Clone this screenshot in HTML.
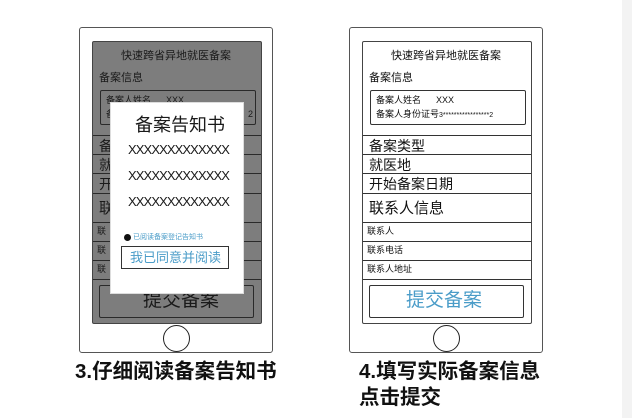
<!DOCTYPE html>
<html><head><meta charset="utf-8"><style>
*{margin:0;padding:0;box-sizing:border-box}
body{width:632px;height:418px;background:#fff;position:relative;overflow:hidden;font-family:"Liberation Sans","Noto Sans CJK SC",sans-serif;color:#111}
.a{position:absolute}
.phone{position:absolute;top:27px;width:194px;height:326px;border:1.5px solid #555;border-radius:3px;background:#fff}
.scr{position:absolute;left:12px;top:13px;width:170px;height:283px;border:1.5px solid #444;border-radius:2px;overflow:hidden}
.home{position:absolute;left:83px;top:297px;width:27px;height:27px;border:1.5px solid #222;border-radius:50%}
.ln{position:absolute;left:0;width:100%;border-top:1.3px solid #333}
.t{position:absolute;white-space:nowrap;line-height:1}
.dim .scr{background:#7d7d7d}
.dim .ln{border-color:#2a2a2a}
.dim .t{color:#1a1a1a}
.cap{position:absolute;font-size:20.5px;font-weight:bold;white-space:nowrap;line-height:1}
.x{font-size:13px;letter-spacing:-0.9px}
</style></head><body>
<div class="a" style="left:622px;top:0;width:10px;height:418px;background:#f3f3f3"></div>

<!-- Phone 1 -->
<div class="phone dim" style="left:79px">
 <div class="scr">
  <div class="t" style="left:28px;top:9px;font-size:11px">快速跨省异地就医备案</div>
  <div class="t" style="left:6px;top:31px;font-size:11px">备案信息</div>
  <div class="a" style="left:7px;top:48px;width:156px;height:35px;border:1.3px solid #2a2a2a;border-radius:2px"></div>
  <div class="t" style="left:13px;top:54px;font-size:9px">备案人姓名&nbsp;&nbsp;&nbsp;&nbsp;&nbsp;&nbsp;XXX</div>
  <div class="t" style="left:13px;top:68px;font-size:9px">备</div>
  <div class="t" style="left:155px;top:68px;font-size:9px">2</div>
  <div class="ln" style="top:93px"></div>
  <div class="t" style="left:6px;top:97px;font-size:14px">备</div>
  <div class="ln" style="top:112px"></div>
  <div class="t" style="left:6px;top:116px;font-size:14px">就</div>
  <div class="ln" style="top:131px"></div>
  <div class="t" style="left:6px;top:135px;font-size:14px">开</div>
  <div class="ln" style="top:151px"></div>
  <div class="t" style="left:6px;top:159px;font-size:15px">联</div>
  <div class="ln" style="top:180px"></div>
  <div class="t" style="left:4px;top:185px;font-size:9px">联</div>
  <div class="ln" style="top:199px"></div>
  <div class="t" style="left:4px;top:204px;font-size:9px">联</div>
  <div class="ln" style="top:218px"></div>
  <div class="t" style="left:4px;top:223px;font-size:9px">联</div>
  <div class="ln" style="top:237px"></div>
  <div class="a" style="left:6px;top:243px;width:155px;height:33px;border:1.5px solid #2a2a2a;border-radius:2px"></div>
  <div class="t" style="left:50px;top:249px;font-size:19px">提交备案</div>
 </div>
 <div class="home"></div>
 <div class="a" style="left:30px;top:74px;width:134px;height:192px;background:#fff;border:1px solid #ddd">
  <div class="t" style="left:24px;top:13px;font-size:18px">备案告知书</div>
  <div class="t x" style="left:17px;top:40px">XXXXXXXXXXXXX</div>
  <div class="t x" style="left:17px;top:66px">XXXXXXXXXXXXX</div>
  <div class="t x" style="left:17px;top:92px">XXXXXXXXXXXXX</div>
  <div class="a" style="left:13px;top:131px;width:7px;height:7px;border-radius:50%;background:#111"></div>
  <div class="t" style="left:22px;top:131px;font-size:7px;color:#4a9cc8">已阅读备案登记告知书</div>
  <div class="a" style="left:10px;top:143px;width:108px;height:23px;border:1.3px solid #333"></div>
  <div class="t" style="left:19px;top:148px;font-size:13px;color:#4a9cc8">我已同意并阅读</div>
 </div>
</div>

<!-- Phone 2 -->
<div class="phone" style="left:349px">
 <div class="scr">
  <div class="t" style="left:28px;top:9px;font-size:11px">快速跨省异地就医备案</div>
  <div class="t" style="left:6px;top:31px;font-size:11px">备案信息</div>
  <div class="a" style="left:7px;top:48px;width:156px;height:35px;border:1.3px solid #333;border-radius:2px"></div>
  <div class="t" style="left:13px;top:54px;font-size:9px">备案人姓名&nbsp;&nbsp;&nbsp;&nbsp;&nbsp;&nbsp;XXX</div>
  <div class="t" style="left:13px;top:68px;font-size:9px">备案人身份证号<span style="font-size:7px">3*****************2</span></div>
  <div class="ln" style="top:93px"></div>
  <div class="t" style="left:6px;top:97px;font-size:14px">备案类型</div>
  <div class="ln" style="top:112px"></div>
  <div class="t" style="left:6px;top:116px;font-size:14px">就医地</div>
  <div class="ln" style="top:131px"></div>
  <div class="t" style="left:6px;top:135px;font-size:14px">开始备案日期</div>
  <div class="ln" style="top:151px"></div>
  <div class="t" style="left:6px;top:159px;font-size:15px">联系人信息</div>
  <div class="ln" style="top:180px"></div>
  <div class="t" style="left:4px;top:185px;font-size:9px">联系人</div>
  <div class="ln" style="top:199px"></div>
  <div class="t" style="left:4px;top:204px;font-size:9px">联系电话</div>
  <div class="ln" style="top:218px"></div>
  <div class="t" style="left:4px;top:223px;font-size:9px">联系人地址</div>
  <div class="ln" style="top:237px"></div>
  <div class="a" style="left:6px;top:243px;width:155px;height:33px;border:1.5px solid #333;border-radius:2px"></div>
  <div class="t" style="left:43px;top:249px;font-size:19px;color:#4a9cc8">提交备案</div>
 </div>
 <div class="home"></div>
</div>

<div class="cap" style="left:75px;top:362px">3.仔细阅读备案告知书</div>
<div class="cap" style="left:359px;top:362px">4.填写实际备案信息</div>
<div class="cap" style="left:359px;top:388px">点击提交</div>
</body></html>
